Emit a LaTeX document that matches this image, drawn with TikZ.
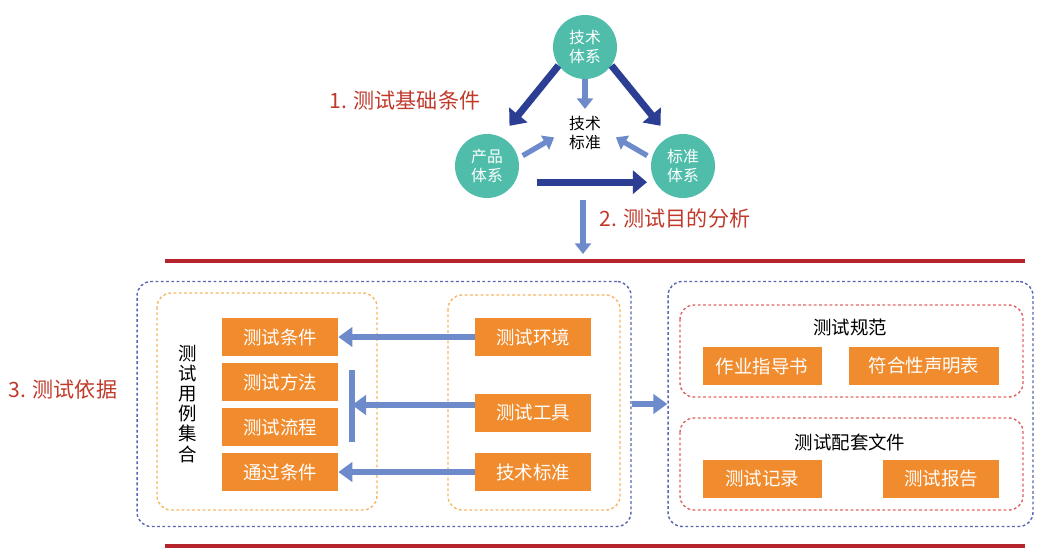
\documentclass[tikz,border=0pt]{standalone}
\usepackage{fontspec}
\setmainfont{Noto Sans CJK SC}
\usetikzlibrary{arrows.meta,positioning}

\definecolor{tealc}{HTML}{4FBDAA}
\definecolor{orangec}{HTML}{F08C2E}
\definecolor{redline}{HTML}{B5232B}
\definecolor{redtext}{HTML}{C0392B}
\definecolor{darkblue}{HTML}{2B3E93}
\definecolor{lightblue}{HTML}{6D8ACB}
\definecolor{dashblue}{HTML}{5666B0}
\definecolor{dashorange}{HTML}{F5B766}
\definecolor{dashred}{HTML}{E06565}

\tikzset{
    sysnode/.style={circle, fill=tealc, text=white, minimum size=1.28cm, inner sep=0pt,
        align=center, font=\fontsize{9}{11}\selectfont},
    orangebox/.style={fill=orangec, text=white, minimum width=2.32cm, minimum height=0.76cm,
        inner sep=0pt, font=\fontsize{10.5}{12}\selectfont},
    bigarrow/.style={darkblue, line width=4pt, -{Triangle[length=8pt,width=13pt]}},
    smallarrow/.style={lightblue, line width=3pt, -{Triangle[length=6pt,width=9pt]}},
    midarrow/.style={lightblue, line width=3pt, -{Triangle[length=8pt,width=11pt]}},
    steplabel/.style={text=redtext, font=\fontsize{12}{14}\selectfont},
    bluedash/.style={dashblue, line width=0.8pt, dash pattern=on 1.6pt off 1.4pt, rounded corners=8pt},
    orangedash/.style={dashorange, line width=0.8pt, dash pattern=on 1.6pt off 1.4pt, rounded corners=8pt},
    reddash/.style={dashred, line width=0.8pt, dash pattern=on 1.6pt off 1.4pt, rounded corners=8pt},
}

\begin{document}
\begin{tikzpicture}[x=0.02cm, y=-0.02cm]
    \useasboundingbox (0,0) rectangle (1040,548);

    % The three systems
    \node[sysnode] (tech) at (585,47) {技术\\体系};
    \node[sysnode] (prod) at (487,166) {产品\\体系};
    \node[sysnode] (std)  at (683,166) {标准\\体系};
    \node[align=center, inner sep=1pt, font=\fontsize{9}{11}\selectfont] (techstd) at (585,133) {技术\\标准};

    \draw[bigarrow, shorten >=0.28cm] (tech.215) -- (prod.65);
    \draw[bigarrow, shorten >=0.28cm] (tech.-35) -- (std.115);
    \draw[bigarrow, shorten <=0.44cm, shorten >=0.16cm] (prod.-30) -- (std.-150);

    \draw[smallarrow, shorten >=0.1cm] (tech.south) -- (techstd.north);
    \draw[smallarrow, shorten <=0.1cm, shorten >=0.3cm] (prod.14) -- (techstd.170);
    \draw[smallarrow, shorten <=0.1cm, shorten >=0.3cm] (std.166) -- (techstd.10);

    % Step labels
    \node[steplabel] (step1) at (405,100) {1. 测试基础条件};
    \node[steplabel] (step2) at (675,218) {2. 测试目的分析};
    \node[steplabel] (step3) at (63,390) {3. 测试依据};

    \coordinate (downtop) at (583,200);
    \coordinate (downbot) at (583,254);
    \draw[smallarrow] (downtop) -- (downbot);

    % Red rules
    \draw[redline, line width=2.6pt] (165,261) -- (1025,261);
    \draw[redline, line width=2.6pt] (165,546) -- (1025,546);

    % Outer boxes
    \node[bluedash, draw, minimum width=9.88cm, minimum height=4.9cm] (casebox) at (384,404) {};
    \node[bluedash, draw, minimum width=7.3cm, minimum height=4.9cm] (specbox) at (850.5,404) {};
    \draw[midarrow, line width=3.5pt] (casebox.east) -- (specbox.west);

    % Inner boxes
    \draw[orangedash] (157,293) rectangle (377,510);
    \draw[orangedash] (448,295) rectangle (620,510);
    \draw[reddash] (680,305) rectangle (1023,397);
    \draw[reddash] (680,418) rectangle (1023,510);

    % Test case set
    \node[align=center, font=\fontsize{10.5}{11.4}\selectfont] (caseset) at (188,404) {测\\试\\用\\例\\集\\合};
    \node[orangebox] (cond)  at (280,337) {测试条件};
    \node[orangebox] (meth)  at (280,382) {测试方法};
    \node[orangebox] (flow)  at (280,427) {测试流程};
    \node[orangebox] (pass)  at (280,472) {通过条件};

    \node[orangebox] (env)   at (533,337) {测试环境};
    \node[orangebox] (tool)  at (533,413) {测试工具};
    \node[orangebox] (tstd)  at (533,472) {技术标准};

    \coordinate (bar) at (352,405);
    \draw[lightblue, line width=3pt] (352,370) -- (352,442);
    \draw[midarrow] (env.west) -- (cond.east);
    \draw[midarrow] (tool.west |- bar) -- (bar);
    \draw[midarrow] (tstd.west) -- (pass.east);

    % Test documents
    \node[font=\fontsize{10.5}{12}\selectfont] (spec) at (850,327) {测试规范};
    \node[orangebox, minimum width=2.38cm] (guide) at (762,366) {作业指导书};
    \node[orangebox, minimum width=3cm] (decl) at (924,366) {符合性声明表};

    \node[font=\fontsize{10.5}{12}\selectfont] (docs) at (850,442) {测试配套文件};
    \node[orangebox, minimum width=2.38cm] (record) at (762,479) {测试记录};
    \node[orangebox] (report) at (941,479) {测试报告};

\end{tikzpicture}
\end{document}
